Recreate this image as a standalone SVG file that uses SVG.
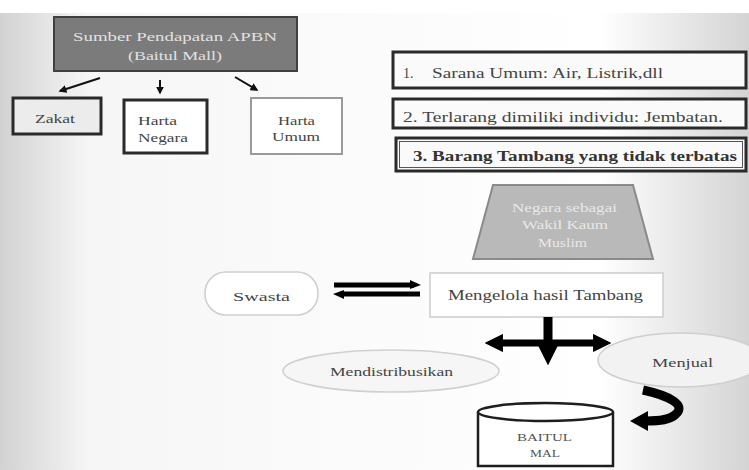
<svg xmlns="http://www.w3.org/2000/svg" width="749" height="470" viewBox="0 0 749 470">
<defs>
<linearGradient id="bg" x1="0" y1="0" x2="1" y2="0">
<stop offset="0" stop-color="#d2d2d2"/>
<stop offset="0.12" stop-color="#f6f6f6"/>
<stop offset="0.8" stop-color="#ffffff"/>
<stop offset="1" stop-color="#d4d4d4"/>
</linearGradient>
<marker id="ah" viewBox="0 0 10 10" refX="8" refY="5" markerWidth="4" markerHeight="4" orient="auto">
<path d="M0,0 L10,5 L0,10 z" fill="#111"/>
</marker>
<marker id="ahb" viewBox="0 0 10 10" refX="6" refY="5" markerWidth="2.6" markerHeight="2.6" orient="auto-start-reverse">
<path d="M0,0 L10,5 L0,10 z" fill="#000"/>
</marker>
<style>
text{font-family:"Liberation Serif","Times New Roman",serif;}
.lbl{font-size:13px;fill:#444;}
.it{font-size:14px;fill:#444;}
.wt{font-size:13px;fill:#e2e2e2;}
.tz{font-size:12px;fill:#e8e8e8;}
.thick{fill:#fff;stroke:#2a2a2a;stroke-width:3;}
.soft{fill:#fff;stroke:#cfcfcf;stroke-width:1.6;}
.ar{stroke:#111;stroke-width:2;fill:none;}
</style>
</defs>
<rect x="0" y="0" width="749" height="470" fill="url(#bg)"/>
<rect x="0" y="0" width="749" height="13" fill="#ffffff"/>

<g id="apbn">
<rect x="54" y="17" width="243" height="54" fill="#7b7b7b" stroke="#404040" stroke-width="2"/>
<text class="wt" x="73" y="41" textLength="204" lengthAdjust="spacingAndGlyphs">Sumber Pendapatan APBN</text>
<text class="wt" x="128" y="60" textLength="94" lengthAdjust="spacingAndGlyphs">(Baitul Mall)</text>
</g>
<g id="zakat">
<rect x="13" y="98" width="88" height="36" fill="#ececec" stroke="#2a2a2a" stroke-width="3"/>
<text class="lbl" x="35" y="123" textLength="40" lengthAdjust="spacingAndGlyphs">Zakat</text>
</g>
<g id="harta-negara">
<rect class="thick" x="124" y="100" width="83" height="53"/>
<text class="lbl" x="138" y="125" textLength="39" lengthAdjust="spacingAndGlyphs">Harta</text>
<text class="lbl" x="138" y="142" textLength="50" lengthAdjust="spacingAndGlyphs">Negara</text>
</g>
<g id="harta-umum">
<rect x="251" y="98" width="91" height="56" fill="#fff" stroke="#9a9a9a" stroke-width="2"/>
<text class="lbl" x="278" y="125" textLength="37" lengthAdjust="spacingAndGlyphs">Harta</text>
<text class="lbl" x="272" y="141" textLength="48" lengthAdjust="spacingAndGlyphs">Umum</text>
</g>

<g id="item1">
<rect x="393" y="52" width="353" height="36" fill="#fafafa" stroke="#2a2a2a" stroke-width="3"/>
<text class="it" x="403" y="78">1.</text>
<text class="it" x="432" y="78" textLength="231" lengthAdjust="spacingAndGlyphs">Sarana Umum: Air, Listrik,dll</text>
</g>
<g id="item2">
<rect x="393" y="99" width="353" height="29" fill="#fafafa" stroke="#2a2a2a" stroke-width="3"/>
<text class="it" x="403" y="122" textLength="320" lengthAdjust="spacingAndGlyphs">2. Terlarang dimiliki individu: Jembatan.</text>
</g>
<g id="item3">
<rect x="396" y="138" width="350" height="33" fill="#fafafa" stroke="#2a2a2a" stroke-width="3"/>
<rect x="399.5" y="141.5" width="343" height="26" fill="none" stroke="#555" stroke-width="1"/>
<text x="413" y="161" font-size="14" font-weight="bold" fill="#333" textLength="324" lengthAdjust="spacingAndGlyphs">3. Barang Tambang yang tidak terbatas</text>
</g>

<g id="negara">
<polygon points="493,185 633,185 653,259 473,259" fill="#b9b9b9" stroke="#8a8a8a" stroke-width="2"/>
<text class="tz" x="512" y="212" textLength="105" lengthAdjust="spacingAndGlyphs">Negara sebagai</text>
<text class="tz" x="522" y="229" textLength="86" lengthAdjust="spacingAndGlyphs">Wakil Kaum</text>
<text class="tz" x="538" y="247" textLength="49" lengthAdjust="spacingAndGlyphs">Muslim</text>
</g>
<g id="swasta">
<rect class="soft" x="205" y="272" width="113" height="43" rx="21"/>
<text class="lbl" x="233" y="301" textLength="57" lengthAdjust="spacingAndGlyphs">Swasta</text>
</g>
<g id="mengelola">
<rect class="soft" x="430" y="273" width="233" height="44"/>
<text x="448" y="300" font-size="14" fill="#444" textLength="195" lengthAdjust="spacingAndGlyphs">Mengelola hasil Tambang</text>
</g>
<g id="mendistribusikan">
<ellipse cx="391" cy="371" rx="108" ry="21" fill="#f6f6f6" stroke="#d0d0d0" stroke-width="1.6"/>
<text class="lbl" x="330" y="376" textLength="123" lengthAdjust="spacingAndGlyphs">Mendistribusikan</text>
</g>
<g id="menjual">
<ellipse cx="680" cy="360" rx="82" ry="27" fill="#f2f2f2" stroke="#cfcfcf" stroke-width="1.6"/>
<text class="lbl" x="652" y="367" textLength="61" lengthAdjust="spacingAndGlyphs">Menjual</text>
</g>
<g id="baitul-mal">
<path d="M478,412 L478,466 L613,466 L613,412" fill="#fff" stroke="#1e1e1e" stroke-width="2.5"/>
<ellipse cx="545.5" cy="412" rx="67.5" ry="9" fill="#fff" stroke="#1e1e1e" stroke-width="2.5"/>
<text x="517" y="441" font-size="11" fill="#555" textLength="55" lengthAdjust="spacingAndGlyphs">BAITUL</text>
<text x="530" y="457" font-size="11" fill="#555" textLength="30" lengthAdjust="spacingAndGlyphs">MAL</text>
</g>

<g id="connectors">
<line class="ar" x1="100" y1="78" x2="60" y2="91" marker-end="url(#ah)"/>
<line class="ar" x1="160" y1="80" x2="160" y2="93" marker-end="url(#ah)"/>
<line class="ar" x1="235" y1="77" x2="257" y2="90" marker-end="url(#ah)"/>
<line x1="334" y1="285" x2="414" y2="285" stroke="#000" stroke-width="5"/>
<polygon points="410,280 421,285 410,289" fill="#000"/>
<line x1="340" y1="294" x2="420" y2="294" stroke="#000" stroke-width="5"/>
<polygon points="344,290 333,294 344,299" fill="#000"/>
<line x1="548" y1="317" x2="548" y2="356" stroke="#000" stroke-width="9" marker-end="url(#ahb)"/>
<line x1="492" y1="343" x2="604" y2="343" stroke="#000" stroke-width="7" marker-start="url(#ahb)" marker-end="url(#ahb)"/>
<path d="M643,390 C670,396 686,405 676,414 C670,420 660,421 646,421" fill="none" stroke="#000" stroke-width="9"/>
<polygon points="648,411 630,421 648,431" fill="#000"/>
</g>
</svg>
